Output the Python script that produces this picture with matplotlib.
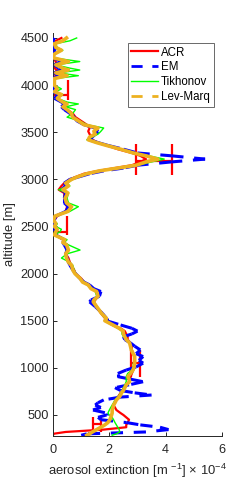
import numpy as np
import matplotlib
matplotlib.use('Agg')
import matplotlib.pyplot as plt
from matplotlib.collections import LineCollection
from matplotlib.lines import Line2D

plt.rcParams['font.family'] = ['Liberation Sans', 'DejaVu Sans']
plt.rcParams['mathtext.fontset'] = 'custom'
plt.rcParams['mathtext.rm'] = 'Liberation Sans'

# altitude grid [m] and extinction profiles [x 1e-4 m^-1]
alt = [4500, 4470, 4440, 4400, 4370, 4330, 4290, 4250, 4215, 4180, 4160, 4130, 4100, 4070,
       4030, 4000, 3960, 3930, 3900, 3860, 3820, 3800, 3770, 3740, 3700, 3660, 3620, 3580,
       3545, 3510, 3480, 3450, 3420, 3390, 3360, 3320, 3280, 3250, 3215, 3185, 3150, 3120,
       3090, 3060, 3025, 3000, 2960, 2930, 2890, 2855, 2800, 2750, 2710, 2660, 2610, 2570,
       2530, 2500, 2470, 2445, 2410, 2360, 2330, 2305, 2250, 2210, 2165, 2120, 2090, 2040,
       2000, 1950, 1910, 1880, 1840, 1810, 1760, 1720, 1700, 1650, 1580, 1525, 1500, 1455,
       1420, 1390, 1360, 1330, 1300, 1265, 1230, 1190, 1150, 1120, 1080, 1050, 1010, 977,
       940, 907, 880, 853, 820, 790, 760, 735, 712, 690, 660, 630, 605, 580, 553, 520,
       500, 475, 450, 420, 395, 370, 345, 320, 300, 285]

lev_marq = [0.48, 0.35, 0.05, 0.1, 0.3, 0.05, 0.0, 0.55, 0.1, 0.35, 0.55, 0.1, 0.5, 0.05,
            0.05, 0.05, 0.15, 0.05, 0.3, 0.15, 0.35, 0.5, 0.35, 0.5, 0.65, 0.7, 0.9, 1.1,
            1.6, 1.45, 1.5, 1.3, 1.25, 1.55, 1.9, 2.4, 2.85, 3.3, 3.72, 3.3, 2.95, 2.3,
            1.65, 1.2, 0.85, 0.66, 0.45, 0.55, 0.35, 0.53, 0.43, 0.48, 0.66, 0.53, 0.07, 0.02,
            0.1, 0.05, 0.15, 0.1, 0.05, 0.42, 0.35, 0.48, 0.55, 0.45, 0.48, 0.55, 0.66, 0.7,
            0.78, 0.96, 1.05, 1.25, 1.35, 1.55, 1.6, 1.45, 1.43, 1.55, 1.72, 1.9, 1.84, 2.13,
            2.35, 2.49, 2.5, 2.55, 2.6, 2.72, 2.75, 2.78, 2.85, 2.9, 2.9, 2.9, 2.88, 2.84,
            2.75, 2.66, 2.7, 2.72, 2.6, 2.55, 2.5, 2.43, 2.4, 2.35, 2.25, 2.2, 2.15, 2.13, 2.1, 2.1,
            2.08, 2.05, 2.02, 1.95, 1.84, 1.7, 1.55, 1.4, 1.3, 1.2]

tikhonov = [0.84, 0.6, 0.1, 0.15, 0.35, 0.05, 0.0, 0.95, 0.1, 0.6, 0.95, 0.2, 0.9, 0.1,
            0.0, 0.05, 0.3, 0.1, 0.35, 0.15, 0.5, 0.9, 0.45, 0.8, 0.7, 0.5, 0.95, 1.2,
            1.8, 1.7, 1.6, 1.4, 1.2, 1.5, 1.95, 2.4, 2.9, 3.4, 3.95, 3.5, 3.0, 2.3,
            1.7, 1.2, 0.85, 0.7, 0.5, 0.6, 0.2, 0.55, 0.5, 0.55, 0.9, 0.6, 0.1, 0.0,
            0.15, 0.1, 0.3, 0.25, 0.05, 0.5, 0.4, 0.55, 0.96, 0.5, 0.3, 0.6, 0.7, 0.75,
            0.8, 0.95, 1.1, 1.2, 1.4, 1.5, 1.55, 1.5, 1.45, 1.55, 1.7, 1.85, 1.85, 2.1,
            2.3, 2.45, 2.45, 2.5, 2.6, 2.7, 2.75, 2.8, 2.85, 2.9, 2.9, 2.85, 2.85, 2.8,
            2.65, 2.6, 2.6, 2.6, 2.55, 2.5, 2.45, 2.4, 2.35, 2.3, 2.2, 2.15, 2.1, 2.05, 2.0, 1.95,
            2.0, 2.1, 2.15, 2.2, 2.25, 2.3, 2.35, 2.37, 2.25, 2.1]

em = [0.05, 0.0, 0.05, 0.0, 0.1, 0.0, 0.0, 0.3, 0.05, 0.2, 0.3, 0.05, 0.2, 0.0,
      0.0, 0.0, 0.05, 0.0, 0.2, 0.05, 0.3, 0.4, 0.3, 0.4, 0.6, 0.75, 0.85, 1.1,
      1.5, 1.6, 1.5, 1.4, 1.3, 1.6, 1.95, 2.5, 3.0, 4.2, 5.4, 4.2, 3.0, 2.5,
      1.8, 1.3, 0.9, 0.6, 0.4, 0.45, 0.3, 0.45, 0.4, 0.4, 0.55, 0.45, 0.1, 0.05,
      0.0, 0.05, 0.05, 0.1, 0.1, 0.4, 0.35, 0.4, 0.5, 0.45, 0.5, 0.55, 0.6, 0.7,
      0.8, 0.95, 1.1, 1.3, 1.45, 1.7, 1.65, 1.35, 1.3, 1.5, 1.75, 1.9, 1.9, 2.4,
      2.8, 3.0, 2.8, 2.5, 2.55, 2.75, 2.9, 3.1, 2.95, 3.2, 3.05, 3.2, 2.95, 2.6,
      2.3, 2.3, 2.75, 3.2, 2.7, 2.2, 2.4, 2.9, 3.5, 2.4, 1.8, 1.6, 1.5, 1.7, 1.42, 1.9,
      1.9, 1.6, 1.7, 2.6, 3.1, 3.8, 4.1, 3.3, 1.2, 1.0]

acr = [0.3, 0.1, 0.05, 0.0, 0.0, 0.0, 0.0, 0.1, 0.1, 0.05, 0.15, 0.05, 0.1, 0.0,
       0.0, 0.0, 0.05, 0.0, 0.3, 0.1, 0.3, 0.4, 0.35, 0.5, 0.7, 0.8, 1.0, 1.2,
       1.3, 1.25, 1.3, 1.35, 1.4, 1.6, 1.9, 2.3, 2.8, 3.1, 3.3, 3.1, 2.8, 2.2,
       1.6, 1.1, 0.8, 0.6, 0.4, 0.3, 0.2, 0.4, 0.4, 0.45, 0.5, 0.45, 0.15, 0.05,
       0.0, 0.0, 0.05, 0.15, 0.1, 0.35, 0.4, 0.5, 0.5, 0.45, 0.55, 0.6, 0.65, 0.75,
       0.8, 1.0, 1.1, 1.25, 1.4, 1.55, 1.6, 1.5, 1.45, 1.55, 1.7, 1.85, 1.85, 2.1,
       2.4, 2.55, 2.6, 2.65, 2.65, 2.75, 2.8, 2.8, 2.85, 2.9, 2.9, 2.9, 2.9, 2.85,
       2.8, 2.75, 2.75, 2.7, 2.6, 2.55, 2.45, 2.4, 2.35, 2.3, 2.25, 2.2, 2.15, 2.2, 2.25, 2.4,
       2.5, 2.6, 2.7, 2.65, 2.6, 2.6, 1.8, 0.45, 0.0, 0.0]

# ACR uncertainty bars: centre altitude, x range, vertical extent of the end marks
err_alt = [3893, 3200, 2440, 1050, 400]
err_lo = [-0.4, 2.94, -0.4, 2.76, 1.43]
err_hi = [0.53, 4.24, 0.48, 3.08, 1.72]
err_bot = [3840, 3043, 2410, 900, 320]
err_top = [4055, 3375, 2610, 1190, 482]

red = (1, 0, 0)
blue = (0, 0, 1)
green = (0, 1, 0)
orange = (0.929, 0.694, 0.125)

fig = plt.figure(figsize=(2.45, 4.91), dpi=100)
ax = fig.add_axes([0.2163, 0.112, 0.6898, 0.8208])

ax.plot(acr, alt, color=red, lw=1.6, zorder=2)
ax.hlines(err_alt, err_lo, err_hi, color=red, lw=1.6, zorder=2)
ax.vlines(err_lo, err_bot, err_top, color=red, lw=1.6, zorder=2)
ax.vlines(err_hi, err_bot, err_top, color=red, lw=1.6, zorder=2)

# dash pattern restarts on every segment, like the original renderer
pts = np.column_stack([em, alt])
segs = np.stack([pts[:-1], pts[1:]], axis=1)
ax.add_collection(LineCollection(segs, colors=[blue], linewidths=2.2,
                                 linestyles=[(0, (4.0, 3.5))], zorder=3))

ax.plot(tikhonov, alt, color=green, lw=1.0, zorder=4)
ax.plot(lev_marq, alt, color=orange, lw=2.6, zorder=5, solid_joinstyle='round')

ax.set_xlim(0, 6)
ax.set_ylim(277, 4553)
ax.set_xticks([0, 2, 4, 6])
ax.set_yticks(np.arange(500, 4501, 500))
ax.spines['top'].set_visible(False)
ax.spines['right'].set_visible(False)
for s in ['left', 'bottom']:
    ax.spines[s].set_color('0.15')
    ax.spines[s].set_linewidth(0.7)
ax.tick_params(direction='in', length=3, width=0.7, color='0.15', labelsize=9.2,
               labelcolor='0.15', pad=3)
ax.tick_params(axis='x', pad=6)

ax.set_xlabel(r'aerosol extinction [m $^{-1}$] $\times$ 10$^{-4}$', fontsize=9.4,
              color='0.15', labelpad=4)
ax.set_ylabel('altitude [m]', fontsize=9.4, color='0.15', labelpad=3)

handles = [Line2D([], [], color=red, lw=1.6),
           Line2D([], [], color=blue, lw=2.0, linestyle=(0, (4.0, 3.5))),
           Line2D([], [], color=green, lw=1.0),
           Line2D([], [], color=orange, lw=2.0, linestyle=(0, (4.0, 3.5)))]
leg = ax.legend(handles, ['ACR', 'EM', 'Tikhonov', 'Lev-Marq'], loc='upper right',
                bbox_to_anchor=(0.95, 0.975), fontsize=8.3, frameon=True, fancybox=False,
                handlelength=2.3, handletextpad=0.3, labelspacing=0.25, borderpad=0.3,
                borderaxespad=0)
leg.get_frame().set_edgecolor('0.15')
leg.get_frame().set_linewidth(0.6)

fig.savefig('out.png', dpi=100)
